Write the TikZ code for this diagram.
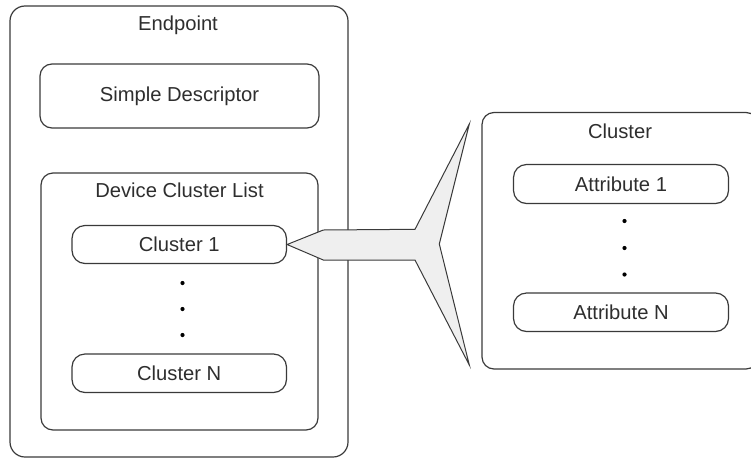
\documentclass[tikz,border=0pt]{standalone}
\usepackage{fontspec}
\setmainfont{Liberation Sans}
\definecolor{edge}{HTML}{3A3A3A}
\definecolor{ink}{HTML}{2E2E2E}
\definecolor{calloutfill}{HTML}{EFEFEF}
\begin{document}
\begin{tikzpicture}[x=1pt,y=-1pt,
  every node/.style={font=\fontsize{20.2}{23}\selectfont, text=ink},
  frame/.style={draw=edge, line width=1.2pt, rounded corners=15pt, inner sep=0pt},
  panel/.style={draw=edge, line width=1.2pt, rounded corners=12pt, inner sep=0pt},
  pill/.style={draw=edge, line width=1.2pt, rounded corners=13pt, inner sep=0pt},
  title/.style={inner sep=0pt, anchor=center},
  dot/.style={fill=black, draw=none},
  callout/.style={draw=edge, line width=1pt, fill=calloutfill, line join=miter}]
  \clip (0,0) rectangle (751,461);

  % Endpoint with its descriptor and cluster list
  \node[frame, minimum width=338pt, minimum height=451pt] (ep) at (179,231.5) {};
  \node[title] (eptitle) at (178,25) {Endpoint};
  \node[panel, minimum width=279pt, minimum height=64pt] (sd) at (179.5,96) {Simple Descriptor};
  \node[panel, minimum width=277pt, minimum height=257pt] (dcl) at (179.5,301.5) {};
  \node[title] (dcltitle) at (179.5,190) {Device Cluster List};
  \node[pill, minimum width=214.5pt, minimum height=38pt] (c1) at (179.25,244.5) {Cluster 1};
  \node[pill, minimum width=214.5pt, minimum height=38.5pt] (cn) at (179.25,373.25) {Cluster N};
  \fill[dot] (182.5,283) circle (2.1pt);
  \fill[dot] (182.5,309) circle (2.1pt);
  \fill[dot] (182.5,335) circle (2.1pt);

  % Cluster with its attributes (its right side runs past the edge)
  \node[panel, minimum width=276pt, minimum height=256.5pt] (cl) at (620,240.75) {};
  \node[title] (cltitle) at (620,131) {Cluster};
  \node[pill, minimum width=215pt, minimum height=39pt] (a1) at (621,184) {Attribute 1};
  \node[pill, minimum width=215pt, minimum height=38.5pt] (an) at (621,312.25) {Attribute N};
  \fill[dot] (624.5,221) circle (2.1pt);
  \fill[dot] (624.5,248) circle (2.1pt);
  \fill[dot] (624.5,274.5) circle (2.1pt);

  % Callout from Cluster 1 opening towards the Cluster box
  \draw[callout] (c1.east) -- (323.3,230) -- (415,229.3) -- (469.3,124)
    -- (439.3,244) -- (469.3,365) -- (415,260) -- (323.3,260) -- cycle;
\end{tikzpicture}
\end{document}
